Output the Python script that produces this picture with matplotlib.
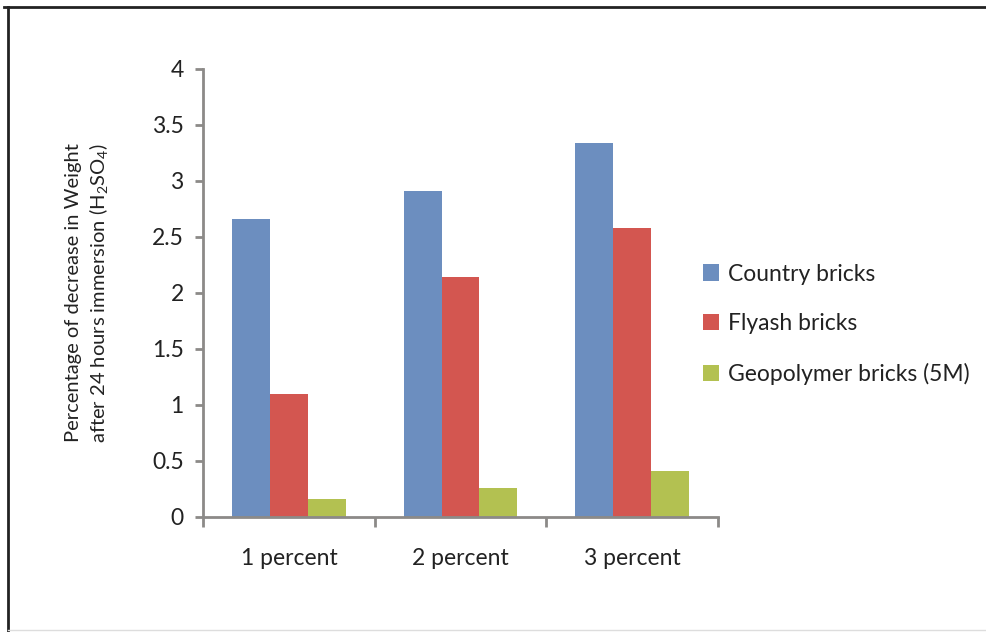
import numpy as np
import matplotlib.pyplot as plt
from matplotlib.lines import Line2D

plt.rcParams['font.family'] = ['Lato', 'DejaVu Sans']
plt.rcParams['mathtext.default'] = 'regular'

# -----------------------------
# Dados
# -----------------------------
categories = ["1 percent", "2 percent", "3 percent"]
country = [2.66, 2.91, 3.34]
flyash = [1.10, 2.14, 2.58]
geopolymer = [0.16, 0.26, 0.41]
series_names = ["Country bricks", "Flyash bricks", "Geopolymer bricks (5M)"]
colors = ["#6C8EBF", "#D35650", "#B3C151"]

axis_gray = "#8C8A88"
txt = "#222222"
fs = 16.5

fig = plt.figure(figsize=(9.86, 6.32), dpi=100)
ax = fig.add_axes([0.206, 0.182, 0.522, 0.709])

x = np.arange(len(categories))
w = 0.22
for i, (vals, name, c) in enumerate(zip([country, flyash, geopolymer], series_names, colors)):
    ax.bar(x + (i - 1) * w, vals, width=w, color=c, label=name)

ax.set_xlim(-0.5, len(categories) - 0.5)
ax.set_ylim(0, 4)
ax.set_yticks(np.arange(0, 4.01, 0.5))
ax.set_yticklabels(["0", "0.5", "1", "1.5", "2", "2.5", "3", "3.5", "4"])
ax.set_xticks(x)
ax.set_xticklabels(categories)
ax.set_xticks(np.arange(-0.5, len(categories), 1.0), minor=True)

for side in ("top", "right"):
    ax.spines[side].set_visible(False)
for side in ("left", "bottom"):
    ax.spines[side].set_color(axis_gray)
    ax.spines[side].set_linewidth(2.0)

ax.tick_params(axis="y", length=6, width=2.0, color=axis_gray, labelsize=fs, pad=8, labelcolor=txt)
ax.tick_params(axis="x", which="major", length=0, labelsize=fs, pad=22, labelcolor=txt)
ax.tick_params(axis="x", which="minor", length=7, width=2.0, color=axis_gray)

ax.set_ylabel("Percentage of decrease in Weight\nafter 24 hours immersion (H$_2$SO$_4$)",
              fontsize=14.5, color=txt, labelpad=30, linespacing=1.3)

fig.legend(loc="center left", bbox_to_anchor=(0.692, 0.487), frameon=False,
           fontsize=fs, handlelength=0.7, handleheight=0.7, handletextpad=0.4,
           labelspacing=1.25, labelcolor=txt)

# moldura da figura
fig.add_artist(Line2D([0.004, 1.0], [0.9897, 0.9897], transform=fig.transFigure,
                      color=txt, linewidth=2.0))
fig.add_artist(Line2D([0.0081, 0.0081], [0.0, 0.9897], transform=fig.transFigure,
                      color=txt, linewidth=2.0))
fig.add_artist(Line2D([0.0081, 1.0], [0.003, 0.003], transform=fig.transFigure,
                      color="#DDDDDD", linewidth=1.0))

fig.savefig("out.png", dpi=100)
